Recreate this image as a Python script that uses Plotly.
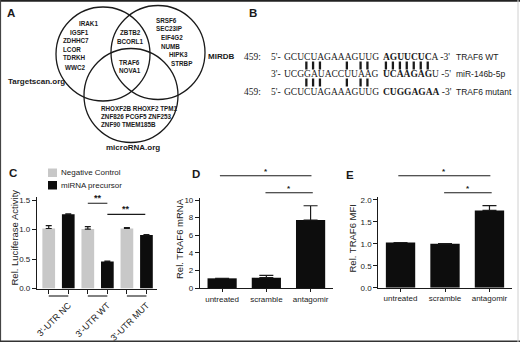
import plotly.graph_objects as go

W, H = 520, 342

# ---------------- data ----------------
# Panel A: Venn diagram gene lists
targetscan_only = ["IRAK1", "IGSF1", "ZDHHC7", "LCOR", "TDRKH", "WWC2"]
targetscan_mirdb = ["ZBTB2", "BCORL1"]
all_three = ["TRAF6", "NOVA1"]
mirdb_only = ["SRSF6", "SEC23IP", "EIF4G2", "NUMB", "HIPK3", "STRBP"]
microrna_only_rows = ["RHOXF2B RHOXF2 TPM1", "ZNF826 PCGF5 ZNF253", "ZNF90 TMEM185B"]
databases = ["Targetscan.org", "MIRDB", "microRNA.org"]

# Panel B: sequences
site_pos = "459:"
wt_5p = "GCUCUAGAAAGUUG"
wt_seed_bold, wt_seed_rest = "AGUUCUC", "A"
mir_3p = "UCGGAUACCUUAAG"
mir_seed_bold, mir_seed_rest = "UCAAGAG", "U"
mut_5p = "GCUCUAGAAAGUUG"
mut_seed_bold, mut_seed_rest = "CUGGAGAA", ""
seq_labels = ["TRAF6 WT", "miR-146b-5p", "TRAF6 mutant"]

# Panel C: luciferase
luc_groups = ["3'-UTR NC", "3'-UTR WT", "3'-UTR MUT"]
luc_series = ["Negative Control", "miRNA precursor"]
luc_neg = [1.02, 1.01, 1.02]
luc_neg_err = [0.05, 0.04, 0.015]
luc_pre = [1.26, 0.46, 0.91]
luc_pre_err = [0.01, 0.005, 0.005]

# Panels D, E
treatments = ["untreated", "scramble", "antagomir"]
traf6_mrna = [1.1, 1.17, 7.73]
traf6_mrna_err = [0.0, 0.27, 1.62]
traf6_mfi = [1.03, 1.0, 1.76]
traf6_mfi_err = [0.0, 0.005, 0.11]

# ---------------- helpers ----------------
def px(x):
    return x / W

def py(y):
    return 1 - y / H

SANS = "Liberation Sans, Arial, sans-serif"
SERIF = "Liberation Serif, Times New Roman, serif"
INK = "#1a1a1a"

annotations = []
shapes = []

def text(x, y, s, size=8, anchor="left", family=SANS, weight="normal", color=INK, angle=0):
    annotations.append(dict(x=px(x), y=py(y), xref="paper", yref="paper", text=s,
                            showarrow=False, xanchor=anchor, yanchor="middle",
                            borderpad=0, textangle=angle,
                            font=dict(family=family, size=size, color=color, weight=weight)))

def line_px(x0, y0, x1, y1, width=1.2, color=INK):
    shapes.append(dict(type="line", xref="paper", yref="paper",
                       x0=px(x0), y0=py(y0), x1=px(x1), y1=py(y1),
                       line=dict(color=color, width=width)))

# ---------------- Panel A ----------------
for cx, cy, r in [(103, 54, 47), (158, 52.5, 47), (131, 95.5, 47)]:
    shapes.append(dict(type="circle", xref="paper", yref="paper",
                       x0=px(cx - r), x1=px(cx + r), y0=py(cy + r), y1=py(cy - r),
                       line=dict(color=INK, width=1.3)))

gfs = 6.3
for g, (x, y) in zip(targetscan_only, [(78, 23), (69, 32), (62, 41), (62, 50), (62, 58), (64, 67)]):
    text(x, y, g, size=gfs, weight="bold")
for g, y in zip(targetscan_mirdb, [33, 42]):
    text(130, y, g, size=gfs, weight="bold", anchor="center")
for g, y in zip(all_three, [62, 70.5]):
    text(129.5, y, g, size=gfs, weight="bold", anchor="center")
for g, (x, y) in zip(mirdb_only, [(155, 20), (155, 29), (160, 37.5), (160, 46), (168, 54.5), (170, 63)]):
    text(x, y, g, size=gfs, weight="bold")
for row, y in zip(microrna_only_rows, [108, 116.5, 125]):
    text(100, y, row, size=gfs, weight="bold")
text(7, 82, databases[0], size=8, weight="bold")
text(207, 57, databases[1], size=8, weight="bold")
text(133, 147, databases[2], size=8, weight="bold", anchor="center")

# ---------------- Panel B ----------------
FS = 9.5
reg_w = {"A": .722, "C": .667, "G": .722, "U": .722}
bold_w = {"A": .722, "C": .722, "G": .778, "U": .722}
SEQ_X = 283
row_y = [57, 74.5, 91.5]

def centers(seq, widths, x0):
    out, x = [], x0
    for ch in seq:
        w = widths[ch] * FS
        out.append(x + w / 2)
        x += w
    return out, x

wt_c, wt_end = centers(wt_5p, reg_w, SEQ_X)
SEED_X = wt_end + 4.5
rows = [
    ("5'-", wt_5p, wt_seed_bold, wt_seed_rest, "-3'", seq_labels[0], True),
    ("3'-", mir_3p, mir_seed_bold, mir_seed_rest, "-5'", seq_labels[1], False),
    ("5'-", mut_5p, mut_seed_bold, mut_seed_rest, "-3'", seq_labels[2], True),
]
for (end, s5, sb, sr, e3, lab, show_pos), y in zip(rows, row_y):
    if show_pos:
        text(262, y, site_pos, size=FS, family=SERIF, anchor="right")
    text(282, y, end, size=FS, family=SERIF, anchor="right")
    text(SEQ_X, y, s5, size=FS, family=SERIF)
    text(SEED_X, y, "<b>" + sb + "</b>" + sr + " " + e3, size=FS, family=SERIF)
    text(455, y, lab, size=8.5)

pair = {("A", "U"), ("U", "A"), ("G", "C"), ("C", "G")}

def pair_bars(top5, topb, bot5, botb, ytop, ybot):
    c1, _ = centers(top5, reg_w, SEQ_X)
    c2, _ = centers(bot5, reg_w, SEQ_X)
    for a, b, xa, xb in zip(top5, bot5, c1, c2):
        if (a, b) in pair:
            xm = (xa + xb) / 2
            line_px(xm, ytop, xm, ybot, width=2.3)
    s1, _ = centers(topb, bold_w, SEED_X)
    s2, _ = centers(botb, bold_w, SEED_X)
    for a, b, xa, xb in zip(topb, botb, s1, s2):
        if (a, b) in pair:
            xm = (xa + xb) / 2
            line_px(xm, ytop, xm, ybot, width=2.3)

pair_bars(wt_5p, wt_seed_bold, mir_3p, mir_seed_bold, 61.5, 69.5)
pair_bars(mir_3p, mir_seed_bold, mut_5p, mut_seed_bold, 78.5, 86.5)

# ---------------- panel letters ----------------
for L, x, y in [("A", 11, 13), ("B", 253, 13), ("C", 13, 173), ("D", 196, 174), ("E", 350, 175)]:
    text(x, y, L, size=11.5, weight="bold", anchor="center")

# ---------------- bars ----------------
fig = go.Figure()

def err(arr, w):
    return dict(type="data", array=arr, arrayminus=[0] * len(arr), symmetric=False,
                color=INK, thickness=1.2, width=w)

fig.add_trace(go.Bar(x=luc_groups, y=luc_neg, name=luc_series[0], marker_color="#c8c8c8",
                     marker_line_width=0, error_y=err(luc_neg_err, 3), xaxis="x", yaxis="y"))
fig.add_trace(go.Bar(x=luc_groups, y=luc_pre, name=luc_series[1], marker_color="#0d0d0d",
                     marker_line_width=0, error_y=err(luc_pre_err, 3), xaxis="x", yaxis="y"))
fig.add_trace(go.Bar(x=treatments, y=traf6_mrna, width=0.66, marker_color="#0d0d0d",
                     marker_line_width=0, error_y=err(traf6_mrna_err, 7), xaxis="x2", yaxis="y2"))
fig.add_trace(go.Bar(x=treatments, y=traf6_mfi, width=0.66, marker_color="#0d0d0d",
                     marker_line_width=0, error_y=err(traf6_mfi_err, 7), xaxis="x3", yaxis="y3"))
# carrier for the per-bar tick axis of panel C
fig.add_trace(go.Scatter(x=[None], y=[None], xaxis="x5", yaxis="y", showlegend=False,
                         hoverinfo="skip"))

axis_common = dict(showline=True, linecolor=INK, linewidth=1.2, showgrid=False, zeroline=False,
                   ticks="outside", ticklen=4, tickwidth=1.1, tickcolor=INK,
                   tickfont=dict(family=SANS, size=8, color=INK), automargin=False)

C_rng = [-0.55, 2.52]
layout_axes = dict(
    xaxis=dict(axis_common, domain=[px(37), px(157)], range=C_rng, anchor="y",
               ticks="", tickangle=-45, ticklabelshift=10, ticklabelstandoff=7,
               tickfont=dict(family=SANS, size=9, color=INK)),
    yaxis=dict(axis_common, domain=[py(288.5), py(197.3)], range=[0, 1.55], anchor="x",
               dtick=0.5, tickformat=".1f"),
    xaxis5=dict(axis_common, overlaying="x", anchor="y", range=C_rng, showline=False,
                tickvals=[i + d for i in range(len(luc_groups)) for d in (-0.25, 0.25)],
                showticklabels=False),
    xaxis2=dict(axis_common, domain=[px(200), px(332.7)], range=[-0.5, 2.5], anchor="y2",
                ticklen=3),
    yaxis2=dict(axis_common, domain=[py(288), py(198.3)], range=[0, 10.2], anchor="x2",
                dtick=2),
    xaxis3=dict(axis_common, domain=[px(378.3), px(511.7)], range=[-0.5, 2.5], anchor="y3",
                ticklen=3),
    yaxis3=dict(axis_common, domain=[py(287.7), py(197.3)], range=[0, 2.06], anchor="x3",
                dtick=0.5, tickformat=".1f"),
)

# ---------------- panel C legend ----------------
for (y0, y1), col, lab in [((168.5, 177), "#c8c8c8", luc_series[0]),
                           ((181, 189.5), "#0d0d0d", luc_series[1])]:
    shapes.append(dict(type="rect", xref="paper", yref="paper", x0=px(48), x1=px(57),
                       y0=py(y1), y1=py(y0), fillcolor=col, line=dict(width=0)))
    text(60, (y0 + y1) / 2, lab, size=8)

# group underlines in C
for i in range(len(luc_groups)):
    shapes.append(dict(type="line", xref="x", yref="paper", x0=i - 0.25, x1=i + 0.25,
                       y0=py(296), y1=py(296), line=dict(color=INK, width=1.1)))

# significance bars in C (data coords)
for x0, x1, yv, star_y in [(0.75, 1.25, 1.45, 1.535), (1.25, 2.22, 1.26, 1.345)]:
    shapes.append(dict(type="line", xref="x", yref="y", x0=x0, x1=x1, y0=yv, y1=yv,
                       line=dict(color=INK, width=1.1)))
    annotations.append(dict(x=(x0 + x1) / 2, y=star_y, xref="x", yref="y", text="**",
                            showarrow=False, yanchor="middle", borderpad=0,
                            font=dict(family=SANS, size=9, color=INK, weight="bold")))

# significance bars in D and E
for xr in ["x2", "x3"]:
    for x0, x1, ypx in [(-0.05, 2.02, 175.7), (0.98, 2.05, 192.7)]:
        shapes.append(dict(type="line", xref=xr, yref="paper", x0=x0, x1=x1,
                           y0=py(ypx), y1=py(ypx), line=dict(color=INK, width=1.1)))
        annotations.append(dict(x=(x0 + x1) / 2, y=py(ypx - 4), xref=xr, yref="paper",
                                text="*", showarrow=False, yanchor="middle", borderpad=0,
                                font=dict(family=SANS, size=8, color=INK, weight="bold")))

# axis titles
text(13.5, 238, "Rel. Luciferase Activity", size=9.5, anchor="center", angle=-90)
text(179, 239, "Rel. TRAF6 mRNA", size=9.5, anchor="center", angle=-90)
text(352, 238.5, "Rel. TRAF6 MFI", size=9.5, anchor="center", angle=-90)

# frame
line_px(0, 0.8, W, 0.8, width=2, color="#222")
line_px(0.5, 0, 0.5, H, width=1.2, color="#444")
line_px(0, H - 0.8, W, H - 0.8, width=1.6, color="#333")
line_px(W - 2, 0, W - 2, H, width=1, color="#d0d0d0")

fig.update_layout(
    width=W, height=H, margin=dict(l=0, r=0, t=0, b=0),
    template="none", paper_bgcolor="white", plot_bgcolor="rgba(0,0,0,0)",
    showlegend=False, barmode="group", bargap=0, bargroupgap=0.35,
    font=dict(family=SANS, color=INK),
    annotations=annotations, shapes=shapes, **layout_axes,
)

fig.write_html("out.html", config={"displayModeBar": False},
               post_script="document.body.style.margin='0';")
